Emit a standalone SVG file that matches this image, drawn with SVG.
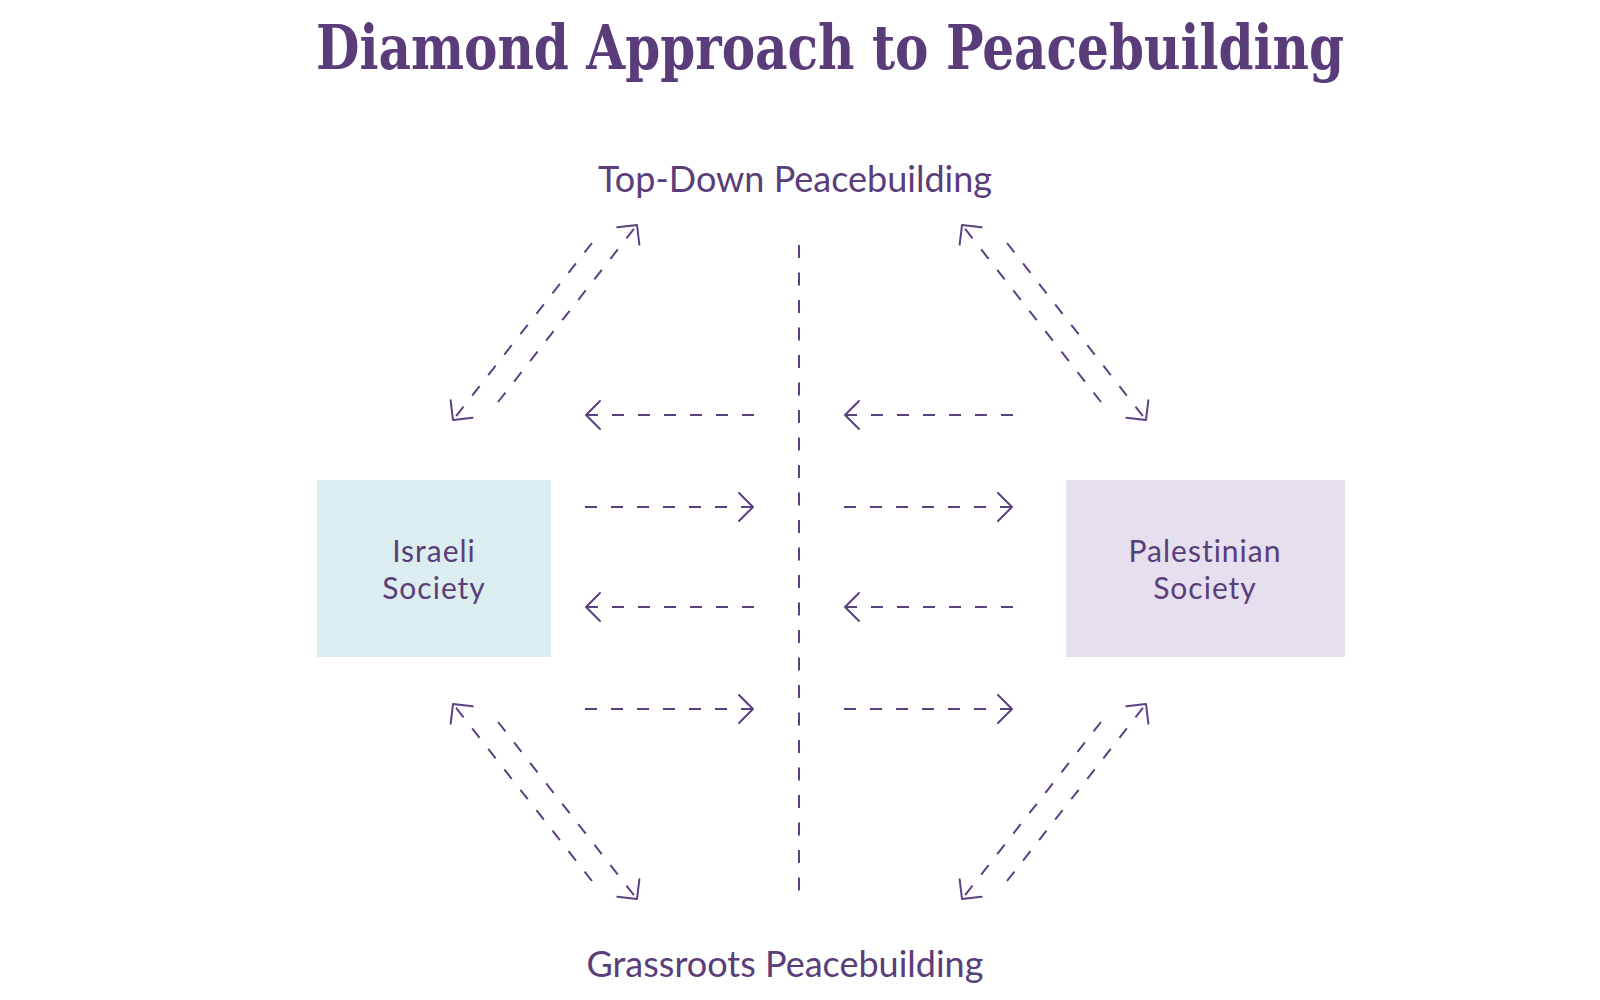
<svg xmlns="http://www.w3.org/2000/svg" width="1600" height="1000" viewBox="0 0 1600 1000">
  <style>
    .title { font-family: "DejaVu Serif", "Liberation Serif", serif; font-stretch: condensed; font-weight: bold; font-size: 62px; fill: #5b3c7b; }
    .label { font-family: Lato, "Open Sans", sans-serif; font-size: 36px; fill: #5a3e7a; }
    .nodetext { font-family: Lato, "Open Sans", sans-serif; font-size: 30px; fill: #5a3e7a; letter-spacing: 1px; }
    .conn { fill: none; stroke: #5b4180; stroke-width: 2; stroke-dasharray: 12 14; marker-end: url(#chev); }
    .divider { fill: none; stroke: #5b4180; stroke-width: 2; stroke-dasharray: 13 14.5; }
  </style>
  <defs>
    <marker id="chev" markerUnits="userSpaceOnUse" markerWidth="40" markerHeight="40" viewBox="-20 -20 40 40" refX="0" refY="0" orient="auto">
      <path d="M -14 -14 L 0 0 L -14 14" fill="none" stroke="#5b4180" stroke-width="2" stroke-linecap="round" stroke-linejoin="round"/>
    </marker>
  </defs>
  <rect width="1600" height="1000" fill="#ffffff"/>

  <text class="title" x="830" y="69" text-anchor="middle" textLength="1028" lengthAdjust="spacingAndGlyphs">Diamond Approach to Peacebuilding</text>

  <g id="top-down">
    <text class="label" x="795" y="192" text-anchor="middle">Top-Down Peacebuilding</text>
  </g>
  <g id="grassroots">
    <text class="label" x="785" y="977" text-anchor="middle">Grassroots Peacebuilding</text>
  </g>

  <g id="israeli-society">
    <rect x="317" y="480" width="234" height="177" fill="#dcedf0"/>
    <text class="nodetext" x="434" y="562" text-anchor="middle">Israeli</text>
    <text class="nodetext" x="434" y="599" text-anchor="middle">Society</text>
  </g>
  <g id="palestinian-society">
    <rect x="1066" y="480" width="279" height="177" fill="#e6dfee"/>
    <text class="nodetext" x="1205" y="562" text-anchor="middle">Palestinian</text>
    <text class="nodetext" x="1205" y="599" text-anchor="middle">Society</text>
  </g>

  <g id="connectors">
    <line class="divider" x1="799" y1="245" x2="799" y2="896"/>

    <!-- horizontal arrows, left side -->
    <path class="conn" d="M 754 415 L 586 415"/>
    <path class="conn" d="M 585 507 L 753 507"/>
    <path class="conn" d="M 754 607 L 586 607"/>
    <path class="conn" d="M 585 709 L 753 709"/>
    <!-- horizontal arrows, right side -->
    <path class="conn" d="M 1013 415 L 845 415"/>
    <path class="conn" d="M 844 507 L 1012 507"/>
    <path class="conn" d="M 1013 607 L 845 607"/>
    <path class="conn" d="M 844 709 L 1012 709"/>

    <!-- top-left pair -->
    <path class="conn" d="M 498 402 L 637 225"/>
    <path class="conn" d="M 592 243 L 453 420"/>
    <!-- top-right pair -->
    <path class="conn" d="M 1101 402 L 962 225"/>
    <path class="conn" d="M 1007 243 L 1146 420"/>
    <!-- bottom-left pair -->
    <path class="conn" d="M 592 881 L 453 704"/>
    <path class="conn" d="M 498 722 L 637 899"/>
    <!-- bottom-right pair -->
    <path class="conn" d="M 1007 881 L 1146 704"/>
    <path class="conn" d="M 1101 722 L 962 899"/>
  </g>
</svg>
